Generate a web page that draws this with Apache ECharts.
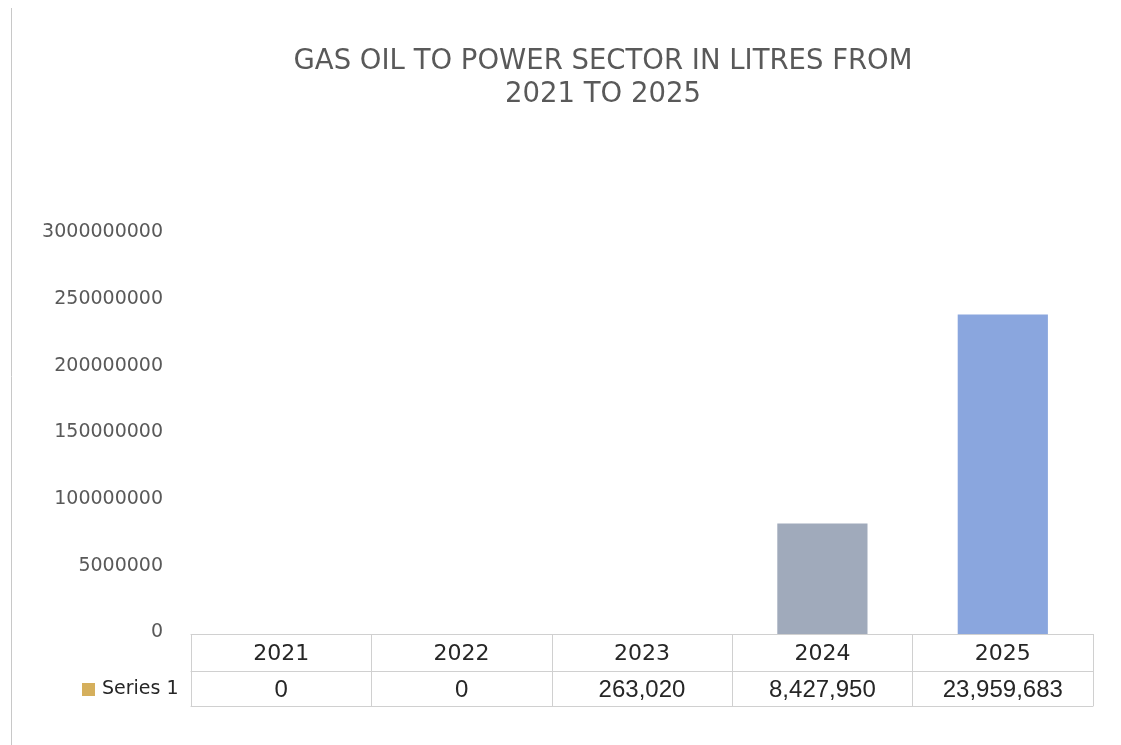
<!DOCTYPE html>
<html>
<head>
<meta charset="utf-8">
<script src="https://cdn.jsdelivr.net/npm/echarts@6/dist/echarts.min.js"></script>
<style>
html,body{margin:0;padding:0;background:#fff;}
#chart{width:1121px;height:745px;}
</style>
</head>
<body>
<div id="chart"></div>
<script>
// ---- data ----
const categories = ['2021', '2022', '2023', '2024', '2025'];
const barValues = [0, 0, 0, 82800000, 239600000];           // bar heights as drawn
const tableValues = ['0', '0', '263,020', '8,427,950', '23,959,683']; // data table row
const barColors = ['#A0AABB', '#A0AABB', '#A0AABB', '#A0AABB', '#8AA6DE'];
const yTickLabels = ['0', '5000000', '100000000', '150000000', '200000000', '250000000', '3000000000'];
const seriesName = 'Series 1';
const titleLines = ['GAS OIL TO POWER SECTOR IN LITRES FROM', '2021 TO 2025'];

const chart = echarts.init(document.getElementById('chart'), null, {renderer: 'canvas'});
const lineColor = '#D0D0D0';
const textColor = '#595959';
const tableText = '#262626';
const step = 50000000;

const option = {
  backgroundColor: '#ffffff',
  animation: false,
  title: {
    text: titleLines.join('\n'),
    left: 598,
    top: 40,
    textAlign: 'center',
    textStyle: {
      fontFamily: 'DejaVu Sans',
      fontSize: 27.5,
      fontWeight: 'normal',
      color: textColor,
      lineHeight: 33
    }
  },
  legend: {
    data: [{name: seriesName, itemStyle: {color: '#D5AF5C'}}],
    left: 82,
    top: 680,
    icon: 'rect',
    itemWidth: 13,
    itemHeight: 13,
    padding: 0,
    textStyle: {fontFamily: 'DejaVu Sans', fontSize: 19, color: tableText, padding: [0, 0, 0, 2]}
  },
  graphic: [{
    type: 'line',
    shape: {x1: 11.5, y1: 8, x2: 11.5, y2: 745},
    style: {stroke: '#C8C8C8', lineWidth: 1}
  }],
  grid: {left: 191, right: 28, top: 234, bottom: 111},
  xAxis: [
    {
      type: 'category',
      data: categories,
      position: 'bottom',
      axisLine: {show: true, lineStyle: {color: lineColor, width: 1}},
      axisTick: {show: true, length: 72, lineStyle: {color: lineColor}},
      axisLabel: {margin: 9, fontFamily: 'DejaVu Sans', fontSize: 22, color: tableText}
    },
    {
      type: 'category',
      data: categories,
      position: 'bottom',
      offset: 37,
      axisLine: {show: true, lineStyle: {color: lineColor, width: 1}},
      axisTick: {show: false},
      axisLabel: {
        margin: 7,
        fontFamily: 'Liberation Sans',
        fontSize: 24,
        color: tableText,
        formatter: function (v, i) { return tableValues[i]; }
      }
    },
    {
      type: 'category',
      data: categories,
      position: 'bottom',
      offset: 72,
      axisLine: {show: true, lineStyle: {color: lineColor, width: 1}},
      axisTick: {show: false},
      axisLabel: {show: false}
    }
  ],
  yAxis: {
    type: 'value',
    min: 0,
    max: step * (yTickLabels.length - 1),
    interval: step,
    axisLine: {show: false},
    axisTick: {show: false},
    splitLine: {show: false},
    axisLabel: {
      margin: 28,
      fontFamily: 'DejaVu Sans',
      fontSize: 19,
      color: textColor,
      verticalAlign: 'bottom',
      lineHeight: 3,
      formatter: function (v) { return yTickLabels[Math.round(v / step)]; }
    }
  },
  series: [{
    name: seriesName,
    type: 'bar',
    xAxisIndex: 0,
    data: barValues.map(function (v, i) { return {value: v, itemStyle: {color: barColors[i]}}; }),
    barCategoryGap: '50%'
  }]
};
chart.setOption(option);
</script>
</body>
</html>
